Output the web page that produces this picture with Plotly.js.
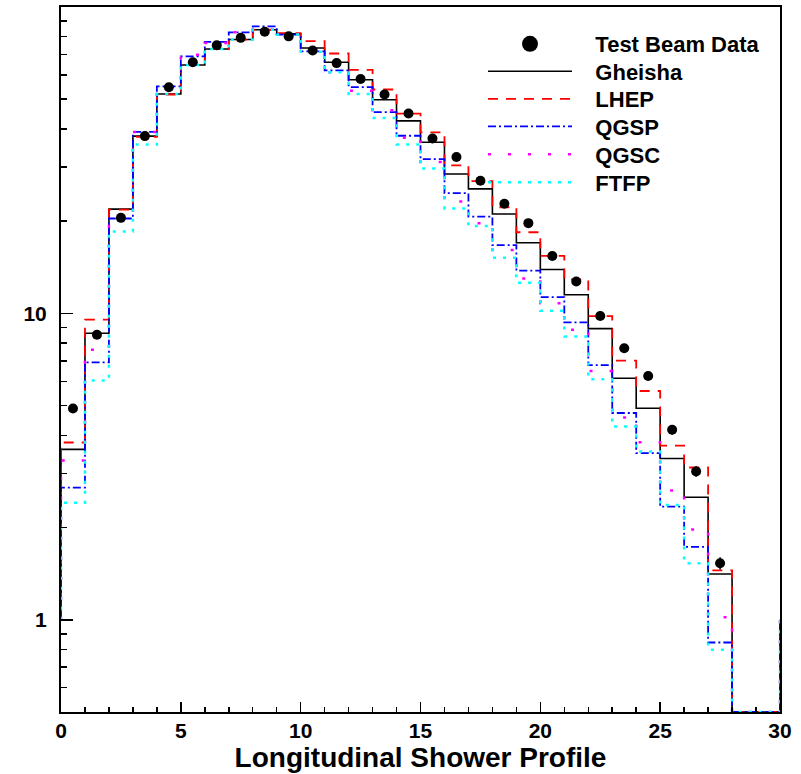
<!DOCTYPE html>
<html>
<head>
<meta charset="utf-8">
<script src="https://cdn.plot.ly/plotly-3.0.1.min.js"></script>
<style>html,body{margin:0;padding:0;background:#fff;}#chart{width:801px;height:774px;}</style>
</head>
<body>
<div id="chart"></div>
<script>
// Bin edges 0..30 (30 bins of width 1)
var binEdges = [0,1,2,3,4,5,6,7,8,9,10,11,12,13,14,15,16,17,18,19,20,21,22,23,24,25,26,27,28,29,30];
var dataCenters = [0.5,1.5,2.5,3.5,4.5,5.5,6.5,7.5,8.5,9.5,10.5,11.5,12.5,13.5,14.5,15.5,16.5,17.5,18.5,19.5,20.5,21.5,22.5,23.5,24.5,25.5,26.5,27.5];
var testBeam = [4.89,8.52,20.5,37.9,54.7,66.0,75.0,79.3,83.0,80.2,72.1,65.6,58.2,51.8,44.9,37.2,32.4,27.1,22.8,19.7,15.4,12.7,9.8,7.69,6.25,4.17,3.05,1.53];
var testBeamErr = [0.1,0.15,0.3,0.5,0.6,0.7,0.8,0.8,0.8,0.8,0.7,0.7,0.6,0.5,0.5,0.4,0.4,0.35,0.3,0.3,0.25,0.25,0.2,0.18,0.18,0.15,0.12,0.07];
var gheisha = [3.60,8.61,21.9,37.9,52.0,64.7,72.9,78.3,84.3,81.7,73.5,66.0,57.9,49.8,42.5,36.2,28.5,25.5,21.1,17.0,13.9,11.5,8.92,6.14,4.90,3.36,2.51,1.41,0,0];
var lhep    = [3.79,9.54,21.8,37.7,51.8,64.7,72.9,78.3,84.3,82.2,77.4,70.5,62.3,53.8,44.9,39.0,30.4,27.0,22.2,18.4,15.4,12.9,9.80,7.01,5.58,3.70,3.14,1.45,0,0];
var qgsp    = [2.70,6.92,20.4,39.1,55.1,69.0,76.9,82.7,86.5,81.3,71.6,62.1,54.8,45.4,38.0,31.9,24.7,20.7,16.7,13.8,11.3,9.35,6.78,4.73,3.50,2.34,1.73,0.843,0,0];
var qgsc    = [3.31,7.61,20.5,39.1,55.3,69.8,76.3,82.7,84.3,80.0,71.4,61.2,53.3,46.0,37.4,31.2,23.2,19.7,16.1,13.0,10.8,8.85,6.48,4.57,3.80,2.64,1.97,1.02,0,0];
var ftfp    = [2.41,6.04,18.5,35.6,52.0,64.7,72.9,78.3,84.3,81.3,71.4,61.2,52.0,43.4,35.6,29.7,22.0,19.3,15.2,12.6,10.2,8.41,6.09,4.27,3.54,2.37,1.53,0.798,0,0];
var seriesNames = ["Test Beam Data","Gheisha","LHEP","QGSP","QGSC","FTFP"];
var xTitle = "Longitudinal Shower Profile";
var yTickVals = [1,10];
var yTickText = ["1","10"];
var yMinorVals = [0.6,0.7,0.8,0.9,2,3,4,5,6,7,8,9,20,30,40,50,60,70,80,90];
var yMin = 0.5, yMax = 100;
var edgeLevel = 1; // level at which the outer histogram edges are drawn

var FONT = "Liberation Sans, Arial, Helvetica, sans-serif";
var PAD = "\u00a0\u00a0\u00a0"; // gap between legend symbol and label

// Build a step outline from bin contents (zeros sit on the frame floor)
function stepXY(vals){
  var xs = [binEdges[0]], ys = [edgeLevel];
  for (var i = 0; i < vals.length; i++){
    xs.push(binEdges[i]);
    ys.push(vals[i] > 0 ? vals[i] : yMin);
  }
  var last = vals[vals.length-1] > 0 ? vals[vals.length-1] : yMin;
  xs.push(binEdges[binEdges.length-1]); ys.push(last);
  xs.push(binEdges[binEdges.length-1]); ys.push(edgeLevel);
  return {x: xs, y: ys};
}

var styles = [
  {name: seriesNames[1], vals: gheisha, color: "#000000", dash: "solid", width: 1.6, legend: "legend2"},
  {name: seriesNames[2], vals: lhep,    color: "#ff0000", dash: "10px,8px", width: 1.8, legend: "legend3"},
  {name: seriesNames[3], vals: qgsp,    color: "#0000ff", dash: "8px,3px,2px,3px", width: 1.8, legend: "legend4"},
  {name: seriesNames[4], vals: qgsc,    color: "#ff00ff", dash: "3px,17px", width: 2.5, legend: "legend5"},
  {name: seriesNames[5], vals: ftfp,    color: "#00ffff", dash: "3px,7px", width: 2.5, legend: "legend6"}
];

var traces = [];
styles.forEach(function(s){
  var st = stepXY(s.vals);
  traces.push({
    type: "scatter", mode: "lines", name: PAD + s.name, x: st.x, y: st.y,
    line: {shape: "hv", color: s.color, dash: s.dash, width: s.width},
    legend: s.legend, hoverinfo: "skip"
  });
});

// data points
traces.push({
  type: "scatter", mode: "markers", name: seriesNames[0], x: dataCenters, y: testBeam,
  marker: {color: "#000", size: 10, symbol: "circle"},
  error_y: {type: "data", array: testBeamErr, visible: true, color: "#000", thickness: 1.5, width: 0},
  showlegend: false
});
// legend-only entry for data (bigger legend marker)
traces.push({
  type: "scatter", mode: "markers", name: PAD + seriesNames[0], x: [null], y: [null],
  marker: {color: "#000", size: 16, symbol: "circle"}, legend: "legend"
});

function legendAt(yPx){
  return {
    x: (483 - 61) / 719, xanchor: "left",
    y: (712 - yPx) / 705, yanchor: "middle",
    bgcolor: "rgba(0,0,0,0)", borderwidth: 0,
    font: {family: FONT, size: 22, color: "#000", weight: "bold"},
    itemwidth: 84, itemclick: false, itemdoubleclick: false
  };
}

var layout = {
  width: 801, height: 774,
  margin: {l: 61, r: 21, t: 7, b: 62, pad: 0},
  paper_bgcolor: "#fff", plot_bgcolor: "#fff",
  showlegend: true,
  legend:  legendAt(44),
  legend2: legendAt(71.5),
  legend3: legendAt(99),
  legend4: legendAt(126.5),
  legend5: legendAt(154.5),
  legend6: legendAt(182.5),
  xaxis: {
    range: [0, 30], dtick: 5, tick0: 0,
    ticks: "inside", ticklen: 10, tickwidth: 1.5, tickcolor: "#000",
    minor: {dtick: 1, ticks: "inside", ticklen: 5, tickwidth: 1.5, tickcolor: "#000"},
    showline: true, linecolor: "#000", linewidth: 2, mirror: true,
    showgrid: false, zeroline: false,
    tickfont: {family: FONT, size: 21, color: "#000", weight: "bold"},
    ticklabelstandoff: -1,
    title: {text: xTitle, font: {family: FONT, size: 28, color: "#000", weight: "bold"}, standoff: 4}
  },
  yaxis: {
    type: "log", range: [Math.log10(yMin), Math.log10(yMax)],
    tickmode: "array", tickvals: yTickVals, ticktext: yTickText,
    ticks: "inside", ticklen: 12, tickwidth: 1.5, tickcolor: "#000",
    minor: {tickmode: "array", tickvals: yMinorVals, ticks: "inside", ticklen: 6, tickwidth: 1.5, tickcolor: "#000"},
    showline: true, linecolor: "#000", linewidth: 2, mirror: true,
    showgrid: false, zeroline: false,
    tickfont: {family: FONT, size: 21, color: "#000", weight: "bold"},
    ticklabelstandoff: 8
  }
};

Plotly.newPlot("chart", traces, layout, {staticPlot: true, displayModeBar: false});
</script>
</body>
</html>
